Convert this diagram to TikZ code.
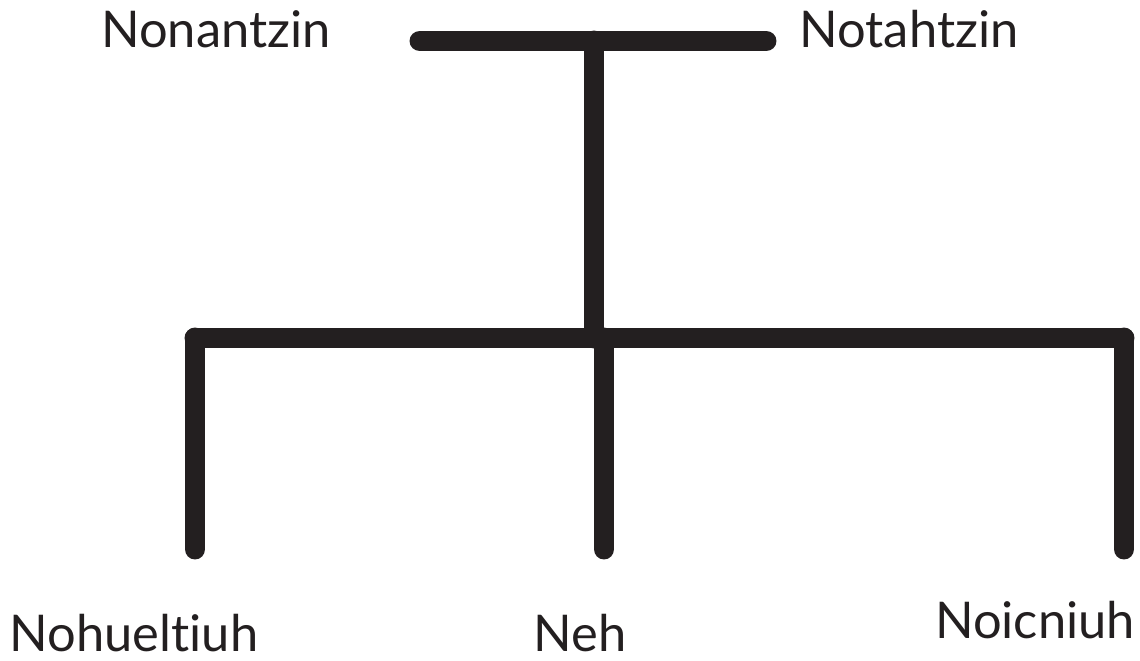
\documentclass[tikz,border=0pt]{standalone}
\usepackage{fontspec}
\setmainfont[Ligatures=NoCommon]{Lato}
\definecolor{ink}{HTML}{231F20}
\tikzset{
  kin/.style={draw=ink, line width=14.9pt, line cap=round},
  kinlabel/.style={inner sep=0pt, anchor=base, text=ink,
    font=\fontsize{36}{42}\selectfont}
}
\begin{document}
\begin{tikzpicture}[x=0.025cm, y=-0.025cm]
  \useasboundingbox (0,0) rectangle (1140,660);
  % parents
  \node[kinlabel] (nonantzin) at (216,47) {Nonantzin};
  \node[kinlabel] (notahtzin) at (909,47) {Notahtzin};
  \coordinate (wedl) at (420,41);
  \coordinate (wedr) at (766,41);
  \coordinate (wedm) at (594,41);
  \draw[kin] (wedl) -- (wedr);
  % descent
  \coordinate (desc) at (594,338);
  \draw[kin] (wedm) -- (desc);
  % siblings bar
  \coordinate (barl) at (195,338);
  \coordinate (barm) at (604,338);
  \coordinate (barr) at (1124,338);
  \draw[kin] (barl) -- (barr);
  % children
  \node[kinlabel] (nohueltiuh) at (134,651) {Nohueltiuh};
  \node[kinlabel] (neh) at (580,651) {Neh};
  \node[kinlabel] (noicniuh) at (1035,638) {Noicniuh};
  \coordinate (legl) at (195,549);
  \coordinate (legm) at (604,549);
  \coordinate (legr) at (1124,549);
  \draw[kin] (barl) -- (legl);
  \draw[kin] (barm) -- (legm);
  \draw[kin] (barr) -- (legr);
\end{tikzpicture}
\end{document}
